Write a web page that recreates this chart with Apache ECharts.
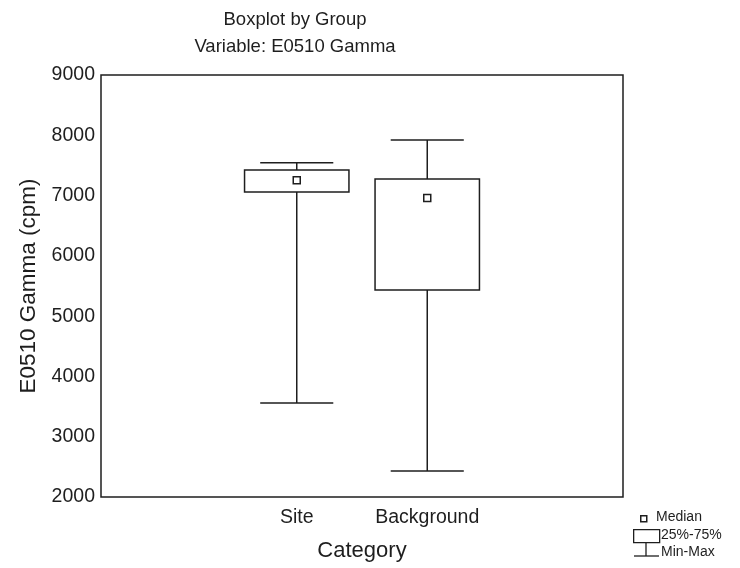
<!DOCTYPE html>
<html>
<head>
<meta charset="utf-8">
<style>
  html, body { margin: 0; padding: 0; background: #fff; }
  #chart { width: 740px; height: 568px; }
</style>
<script src="https://cdn.jsdelivr.net/npm/echarts@6/dist/echarts.min.js"></script>
</head>
<body>
<div id="chart"></div>
<script>
// Category slots (blank slots pad the axis on both sides)
const categories = ['', 'Site', 'Background', ''];
// Box statistics per group, E0510 Gamma (cpm)
const groupIndex = [1, 2];
const minVals    = [3560, 2430];
const q1Vals     = [7060, 5435];
const medianVals = [7255, 6960];
const q3Vals     = [7425, 7275];
const maxVals    = [7545, 7920];
const yTicks = { min: 2000, max: 9000, interval: 1000 };

const ink = '#1e1e1e';
const font = 'Liberation Sans, Arial, sans-serif';

const boxData = groupIndex.map((c, i) => [c, minVals[i], q1Vals[i], medianVals[i], q3Vals[i], maxVals[i]]);

function renderBox(params, api) {
  const cat = api.value(0);
  const pMin = api.coord([cat, api.value(1)]);
  const pQ1 = api.coord([cat, api.value(2)]);
  const pMed = api.coord([cat, api.value(3)]);
  const pQ3 = api.coord([cat, api.value(4)]);
  const pMax = api.coord([cat, api.value(5)]);
  const slot = api.size([1, 0])[0];
  const boxW = slot * 0.8;
  const capW = slot * 0.56;
  const x = pMed[0];
  const st = { stroke: ink, lineWidth: 1.5, fill: null };
  return {
    type: 'group',
    children: [
      { type: 'line', shape: { x1: x, y1: pMax[1], x2: x, y2: pQ3[1] }, style: st },
      { type: 'line', shape: { x1: x, y1: pQ1[1], x2: x, y2: pMin[1] }, style: st },
      { type: 'line', shape: { x1: x - capW / 2, y1: pMax[1], x2: x + capW / 2, y2: pMax[1] }, style: st },
      { type: 'line', shape: { x1: x - capW / 2, y1: pMin[1], x2: x + capW / 2, y2: pMin[1] }, style: st },
      { type: 'rect', shape: { x: x - boxW / 2, y: pQ3[1], width: boxW, height: pQ1[1] - pQ3[1] },
        style: { stroke: ink, lineWidth: 1.5, fill: '#fff' } },
      { type: 'rect', shape: { x: x - 3.5, y: pMed[1] - 3.5, width: 7, height: 7 },
        style: { stroke: ink, lineWidth: 1.5, fill: '#fff' } }
    ]
  };
}

const chart = echarts.init(document.getElementById('chart'), null, { renderer: 'canvas' });
chart.setOption({
  backgroundColor: '#fff',
  animation: false,
  title: {
    text: 'Boxplot by Group\nVariable: E0510 Gamma',
    left: 290, top: 1, textAlign: 'center',
    textStyle: { fontFamily: font, fontSize: 18.5, fontWeight: 'normal', color: ink, lineHeight: 27 }
  },
  grid: { left: 101, top: 75, right: 117, bottom: 71, show: true, borderColor: ink, borderWidth: 1.5, backgroundColor: 'transparent' },
  xAxis: {
    type: 'category',
    data: categories,
    name: 'Category',
    nameLocation: 'middle',
    nameGap: 43,
    nameTextStyle: { fontFamily: font, fontSize: 22, color: ink },
    axisLine: { show: false },
    axisTick: { show: false },
    axisLabel: { fontFamily: font, fontSize: 19.5, color: ink, margin: 11, interval: 0 },
    splitLine: { show: false }
  },
  yAxis: {
    type: 'value',
    min: yTicks.min, max: yTicks.max, interval: yTicks.interval,
    name: 'E0510 Gamma (cpm)',
    nameLocation: 'middle',
    nameGap: 61,
    nameTextStyle: { fontFamily: font, fontSize: 22.5, color: ink },
    axisLine: { show: false },
    axisTick: { show: false },
    axisLabel: { fontFamily: font, fontSize: 19.5, color: ink, margin: 6, formatter: v => String(v) },
    splitLine: { show: false }
  },
  series: [{
    type: 'custom',
    renderItem: renderBox,
    data: boxData,
    encode: { x: 0, y: [1, 2, 3, 4, 5] }
  }],
  graphic: [
    // legend key: median marker
    { type: 'rect', left: 640, top: 515, shape: { width: 6, height: 6 }, style: { stroke: ink, lineWidth: 1.5, fill: '#fff' } },
    { type: 'text', left: 656, top: 510, style: { text: 'Median', font: '14px ' + font, fill: ink } },
    // legend key: interquartile box
    { type: 'rect', left: 633, top: 529, shape: { width: 26, height: 13 }, style: { stroke: ink, lineWidth: 1.3, fill: '#fff' } },
    { type: 'text', left: 661, top: 528, style: { text: '25%-75%', font: '14px ' + font, fill: ink } },
    // legend key: min-max whisker
    { type: 'line', shape: { x1: 646, y1: 543, x2: 646, y2: 556 }, style: { stroke: ink, lineWidth: 1.3 } },
    { type: 'line', shape: { x1: 634, y1: 556, x2: 659, y2: 556 }, style: { stroke: ink, lineWidth: 1.3 } },
    { type: 'text', left: 661, top: 545, style: { text: 'Min-Max', font: '14px ' + font, fill: ink } }
  ]
});
</script>
</body>
</html>
